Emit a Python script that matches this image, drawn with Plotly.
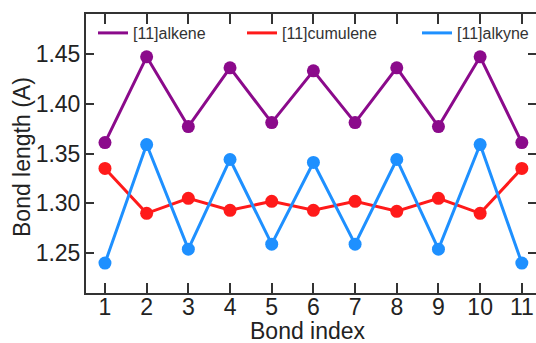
import plotly.graph_objects as go

bond_index = [1, 2, 3, 4, 5, 6, 7, 8, 9, 10, 11]
alkene = [1.361, 1.447, 1.377, 1.436, 1.381, 1.433, 1.381, 1.436, 1.377, 1.447, 1.361]
cumulene = [1.335, 1.290, 1.305, 1.293, 1.302, 1.293, 1.302, 1.292, 1.305, 1.290, 1.335]
alkyne = [1.240, 1.359, 1.254, 1.344, 1.259, 1.341, 1.259, 1.344, 1.254, 1.359, 1.240]
names = ["[11]alkene", "[11]cumulene", "[11]alkyne"]
colors = ["#8B0A8B", "#FF1A1A", "#1E90FF"]
y_ticks = [1.25, 1.30, 1.35, 1.40, 1.45]

W, H = 536, 343
ml, mr, mt, mb = 86, 0, 14, 50

fig = go.Figure()
series = [alkene, cumulene, alkyne]
legend_ids = ["legend", "legend2", "legend3"]
for s, n, c, lg in zip(series, names, colors, legend_ids):
    fig.add_trace(go.Scatter(x=bond_index, y=s, mode="lines+markers", name=n,
                             line=dict(color=c, width=3), marker=dict(color=c, size=13),
                             showlegend=False))
    fig.add_trace(go.Scatter(x=[None], y=[None], mode="lines", name=n,
                             line=dict(color=c, width=3), legend=lg, showlegend=True))

pw = W - ml - mr
ph = H - mt - mb
def px_x(p):
    return (p - ml) / pw
def px_y(p):
    return (H - mb - p) / ph

font = "Liberation Sans, Arial, Helvetica, sans-serif"
leg_common = dict(orientation="h", bgcolor="rgba(0,0,0,0)", borderwidth=0,
                  font=dict(family=font, size=16, color="#333333"),
                  xanchor="left", yanchor="middle", itemwidth=30, tracegroupgap=0)
legend_x = [93, 242, 417]
fig.update_layout(
    legend=dict(x=px_x(legend_x[0]), y=px_y(33), **leg_common),
    legend2=dict(x=px_x(legend_x[1]), y=px_y(33), **leg_common),
    legend3=dict(x=px_x(legend_x[2]), y=px_y(33), **leg_common),
)

axis_common = dict(showline=True, linecolor="#333333", linewidth=2, mirror="ticks",
                   ticks="inside", tickcolor="#333333", tickwidth=2,
                   showgrid=False, zeroline=False,
                   tickfont=dict(family=font, size=23, color="#222222"))
fig.update_xaxes(range=[0.545, 11.34], tickvals=bond_index, ticklen=10,
                 ticklabelstandoff=-8, **axis_common)
fig.update_yaxes(range=[1.21, 1.49], tickvals=y_ticks, ticktext=[f"{v:.2f}" for v in y_ticks],
                 ticklen=8, ticklabelstandoff=-1, **axis_common)

title_font = dict(family=font, size=23, color="#222222")
fig.add_annotation(text="Bond index", xref="paper", yref="paper",
                   x=px_x(308), y=px_y(331), xanchor="center", yanchor="middle",
                   showarrow=False, font=title_font)
fig.add_annotation(text="Bond length (A)", xref="paper", yref="paper",
                   x=px_x(22), y=px_y(157), xanchor="center", yanchor="middle",
                   textangle=-90, showarrow=False, font=title_font)

fig.update_layout(width=W, height=H, margin=dict(l=ml, r=mr, t=mt, b=mb, autoexpand=False),
                  plot_bgcolor="white", paper_bgcolor="white")
fig.write_html("out.html", config={"displayModeBar": False},
               post_script="document.body.style.margin='0';document.body.style.overflow='hidden';")
